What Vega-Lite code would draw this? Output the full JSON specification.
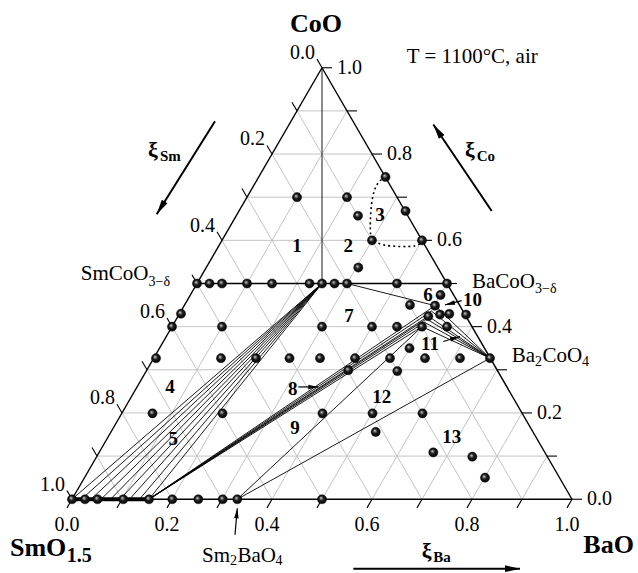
{
"$schema": "https://vega.github.io/schema/vega-lite/v6.json",
"width": 638, "height": 573, "padding": 0,
"autosize": {"type": "fit", "contains": "padding"},
"background": "white",
"config": {"view": {"stroke": null}},
"datasets": {
"grid": [
{"x":0.05,"c":0.1,"x2":0.95,"c2":0.1},{"x":0.1,"c":0.2,"x2":0.9,"c2":0.2},{"x":0.15,"c":0.3,"x2":0.85,"c2":0.3},
{"x":0.2,"c":0.4,"x2":0.8,"c2":0.4},{"x":0.25,"c":0.5,"x2":0.75,"c2":0.5},{"x":0.3,"c":0.6,"x2":0.7,"c2":0.6},
{"x":0.35,"c":0.7,"x2":0.65,"c2":0.7},{"x":0.4,"c":0.8,"x2":0.6,"c2":0.8},{"x":0.45,"c":0.9,"x2":0.55,"c2":0.9},
{"x":0.1,"c":0,"x2":0.55,"c2":0.9},{"x":0.2,"c":0,"x2":0.6,"c2":0.8},{"x":0.3,"c":0,"x2":0.65,"c2":0.7},
{"x":0.4,"c":0,"x2":0.7,"c2":0.6},{"x":0.5,"c":0,"x2":0.75,"c2":0.5},{"x":0.6,"c":0,"x2":0.8,"c2":0.4},
{"x":0.7,"c":0,"x2":0.85,"c2":0.3},{"x":0.8,"c":0,"x2":0.9,"c2":0.2},{"x":0.9,"c":0,"x2":0.95,"c2":0.1},
{"x":0.1,"c":0,"x2":0.05,"c2":0.1},{"x":0.2,"c":0,"x2":0.1,"c2":0.2},{"x":0.3,"c":0,"x2":0.15,"c2":0.3},
{"x":0.4,"c":0,"x2":0.2,"c2":0.4},{"x":0.5,"c":0,"x2":0.25,"c2":0.5},{"x":0.6,"c":0,"x2":0.3,"c2":0.6},
{"x":0.7,"c":0,"x2":0.35,"c2":0.7},{"x":0.8,"c":0,"x2":0.4,"c2":0.8},{"x":0.9,"c":0,"x2":0.45,"c2":0.9}
],
"edges": [
{"x":0,"c":0,"x2":1,"c2":0},{"x":0,"c":0,"x2":0.5,"c2":1},{"x":1,"c":0,"x2":0.5,"c2":1},
{"x":0.25,"c":0.5,"x2":0.75,"c2":0.5}
],
"ticks": [
{"x":0,"c":0,"x2":-0.01,"c2":-0.02},{"x":0.1,"c":0,"x2":0.09,"c2":-0.02},{"x":0.2,"c":0,"x2":0.19,"c2":-0.02},
{"x":0.3,"c":0,"x2":0.29,"c2":-0.02},{"x":0.4,"c":0,"x2":0.39,"c2":-0.02},{"x":0.5,"c":0,"x2":0.49,"c2":-0.02},
{"x":0.6,"c":0,"x2":0.59,"c2":-0.02},{"x":0.7,"c":0,"x2":0.69,"c2":-0.02},{"x":0.8,"c":0,"x2":0.79,"c2":-0.02},
{"x":0.9,"c":0,"x2":0.89,"c2":-0.02},{"x":1,"c":0,"x2":0.99,"c2":-0.02},
{"x":1,"c":0,"x2":1.02,"c2":0},{"x":0.95,"c":0.1,"x2":0.97,"c2":0.1},{"x":0.9,"c":0.2,"x2":0.92,"c2":0.2},
{"x":0.85,"c":0.3,"x2":0.87,"c2":0.3},{"x":0.8,"c":0.4,"x2":0.82,"c2":0.4},{"x":0.75,"c":0.5,"x2":0.77,"c2":0.5},
{"x":0.7,"c":0.6,"x2":0.72,"c2":0.6},{"x":0.65,"c":0.7,"x2":0.67,"c2":0.7},{"x":0.6,"c":0.8,"x2":0.62,"c2":0.8},
{"x":0.55,"c":0.9,"x2":0.57,"c2":0.9},{"x":0.5,"c":1,"x2":0.52,"c2":1},
{"x":0,"c":0,"x2":-0.01,"c2":0.02},{"x":0.05,"c":0.1,"x2":0.04,"c2":0.12},{"x":0.1,"c":0.2,"x2":0.09,"c2":0.22},
{"x":0.15,"c":0.3,"x2":0.14,"c2":0.32},{"x":0.2,"c":0.4,"x2":0.19,"c2":0.42},{"x":0.25,"c":0.5,"x2":0.24,"c2":0.52},
{"x":0.3,"c":0.6,"x2":0.29,"c2":0.62},{"x":0.35,"c":0.7,"x2":0.34,"c2":0.72},{"x":0.4,"c":0.8,"x2":0.39,"c2":0.82},
{"x":0.45,"c":0.9,"x2":0.44,"c2":0.92},{"x":0.5,"c":1,"x2":0.49,"c2":1.02}
],
"ties": [
{"x":0.5,"c":0.5,"x2":0,"c2":0},{"x":0.5,"c":0.5,"x2":0.019,"c2":0},{"x":0.5,"c":0.5,"x2":0.038,"c2":0},
{"x":0.5,"c":0.5,"x2":0.058,"c2":0},{"x":0.5,"c":0.5,"x2":0.077,"c2":0},{"x":0.5,"c":0.5,"x2":0.096,"c2":0},
{"x":0.5,"c":0.5,"x2":0.115,"c2":0},{"x":0.5,"c":0.5,"x2":0.135,"c2":0},{"x":0.5,"c":0.5,"x2":0.154,"c2":0},
{"x":0.154,"c":0,"x2":0.7,"c2":0.4},{"x":0.154,"c":0,"x2":0.705,"c2":0.41},{"x":0.154,"c":0,"x2":0.709,"c2":0.418},
{"x":0.154,"c":0,"x2":0.7126,"c2":0.4242},{"x":0.154,"c":0,"x2":0.719,"c2":0.436},{"x":0.154,"c":0,"x2":0.726,"c2":0.4487},
{"x":0.836,"c":0.327,"x2":0.7,"c2":0.4},{"x":0.836,"c":0.327,"x2":0.705,"c2":0.41},{"x":0.836,"c":0.327,"x2":0.709,"c2":0.418},
{"x":0.836,"c":0.327,"x2":0.7126,"c2":0.4242},{"x":0.836,"c":0.327,"x2":0.719,"c2":0.436},{"x":0.836,"c":0.327,"x2":0.726,"c2":0.4487},
{"x":0.3306,"c":0,"x2":0.7,"c2":0.4},{"x":0.3306,"c":0,"x2":0.836,"c2":0.327},
{"x":0.55,"c":0.5,"x2":0.726,"c2":0.4487},{"x":0.5,"c":1,"x2":0.5,"c2":0.5}
],
"thick": [{"x":0,"c":0,"x2":0.154,"c2":0}],
"dotted": [
{"i":0,"x":0.627,"c":0.747},{"i":1,"x":0.609,"c":0.734},{"i":2,"x":0.599,"c":0.695},{"i":3,"x":0.596,"c":0.641},
{"i":4,"x":0.597,"c":0.61},{"i":5,"x":0.6,"c":0.6},{"i":6,"x":0.62,"c":0.588},{"i":7,"x":0.66,"c":0.585},
{"i":8,"x":0.69,"c":0.586},{"i":9,"x":0.7026,"c":0.5975}
],
"arrowsBig": [
{"x":0.286,"c":0.876,"x2":0.1694,"c2":0.6605},
{"x":0.8394,"c":0.668,"x2":0.7226,"c2":0.8684},
{"x":0.5626,"c":-0.161,"x2":0.896,"c2":-0.161}
],
"arrowsSmall": [
{"x":0.326,"c":-0.0824,"x2":0.3306,"c2":-0.0208},
{"x":0.4526,"c":0.2603,"x2":0.4926,"c2":0.2603},
{"x":0.7794,"c":0.4603,"x2":0.746,"c2":0.4503},
{"x":0.7426,"c":0.3656,"x2":0.776,"c2":0.3771}
],
"heads": [
{"name":"xiSm","x":0.1694,"c":0.6605},{"name":"xiCo","x":0.7226,"c":0.8684},{"name":"xiBa","x":0.896,"c":-0.161},
{"name":"smba","x":0.3306,"c":-0.0208},{"name":"a8","x":0.4926,"c":0.2603},{"name":"a10","x":0.746,"c":0.4503},
{"name":"a11","x":0.776,"c":0.3771}
],
"points": [
{"x":0.45,"c":0.70},{"x":0.55,"c":0.70},{"x":0.572,"c":0.657},{"x":0.627,"c":0.747},{"x":0.667,"c":0.668},
{"x":0.60,"c":0.60},{"x":0.70,"c":0.60},{"x":0.5726,"c":0.537},
{"x":0.25,"c":0.5},{"x":0.275,"c":0.5},{"x":0.30,"c":0.5},{"x":0.35,"c":0.5},{"x":0.40,"c":0.5},{"x":0.475,"c":0.5},
{"x":0.50,"c":0.5},{"x":0.525,"c":0.5},{"x":0.55,"c":0.5},{"x":0.65,"c":0.5},{"x":0.75,"c":0.5},
{"x":0.737,"c":0.4734},{"x":0.676,"c":0.4503},{"x":0.726,"c":0.4487},{"x":0.7126,"c":0.4242},{"x":0.736,"c":0.428},
{"x":0.7546,"c":0.4296},{"x":0.788,"c":0.428},
{"x":0.2,"c":0.4},{"x":0.3,"c":0.4},{"x":0.5,"c":0.4},{"x":0.6,"c":0.4},{"x":0.65,"c":0.4},{"x":0.7,"c":0.4},{"x":0.75,"c":0.4},
{"x":0.218,"c":0.43},{"x":0.675,"c":0.35},
{"x":0.168,"c":0.327},{"x":0.298,"c":0.327},{"x":0.368,"c":0.327},{"x":0.435,"c":0.327},{"x":0.496,"c":0.327},
{"x":0.566,"c":0.327},{"x":0.636,"c":0.327},{"x":0.706,"c":0.327},{"x":0.776,"c":0.327},{"x":0.836,"c":0.327},
{"x":0.5526,"c":0.299},{"x":0.6506,"c":0.297},
{"x":0.161,"c":0.199},{"x":0.301,"c":0.199},{"x":0.501,"c":0.199},{"x":0.601,"c":0.199},{"x":0.701,"c":0.199},
{"x":0.6074,"c":0.156},
{"x":0.7226,"c":0.1086},{"x":0.8006,"c":0.0986},{"x":0.826,"c":0.05},
{"x":0,"c":0},{"x":0.026,"c":0},{"x":0.051,"c":0},{"x":0.1026,"c":0},{"x":0.154,"c":0},{"x":0.2006,"c":0},
{"x":0.2526,"c":0},{"x":0.3014,"c":0},{"x":0.3306,"c":0},{"x":0.5,"c":0}
],
"tickBottom": [
{"t":"0.0","x":-0.01,"c":-0.074},{"t":"0.2","x":0.19,"c":-0.074},{"t":"0.4","x":0.39,"c":-0.074},
{"t":"0.6","x":0.59,"c":-0.074},{"t":"0.8","x":0.79,"c":-0.074},{"t":"1.0","x":0.99,"c":-0.074}
],
"tickLeft": [
{"t":"0.0","x":0.49,"c":1.02},{"t":"0.2","x":0.39,"c":0.82},{"t":"0.4","x":0.29,"c":0.62},
{"t":"0.6","x":0.19,"c":0.42},{"t":"0.8","x":0.09,"c":0.22},{"t":"1.0","x":-0.01,"c":0.02}
],
"tickRight": [
{"t":"0.0","x":1.02,"c":0},{"t":"0.2","x":0.92,"c":0.2},{"t":"0.4","x":0.82,"c":0.4},
{"t":"0.6","x":0.72,"c":0.6},{"t":"0.8","x":0.62,"c":0.8},{"t":"1.0","x":0.52,"c":1.0}
],
"regions": [
{"t":"1","x":0.45,"c":0.5866},{"t":"2","x":0.5526,"c":0.5866},{"t":"3","x":0.616,"c":0.658},
{"t":"4","x":0.196,"c":0.26},{"t":"5","x":0.2026,"c":0.139},{"t":"6","x":0.712,"c":0.4734},
{"t":"7","x":0.554,"c":0.4256},{"t":"8","x":0.4414,"c":0.2564},{"t":"9","x":0.446,"c":0.164},
{"t":"11","x":0.716,"c":0.36},{"t":"12","x":0.6194,"c":0.2372},{"t":"13","x":0.7594,"c":0.1448}
],
"regionsLeft": [{"t":"10","x":0.782,"c":0.462}],
"plainLeft": [
{"t":"T = 1100°C, air","x":0.6694,"c":1.0115},
{"t":"CoO","x":0.941,"c":0.3187},
{"t":"BaO","x":0.331,"c":-0.1443}
],
"plainRight": [
{"t":"SmCoO","x":0.153,"c":0.508},
{"t":"BaCoO","x":0.926,"c":0.4896},
{"t":"Ba","x":0.926,"c":0.3187},
{"t":"Sm","x":0.316,"c":-0.1443}
],
"subs": [
{"t":"3−δ","x":0.153,"c":0.494},
{"t":"3−δ","x":0.926,"c":0.478},
{"t":"2","x":0.926,"c":0.3095},
{"t":"4","x":1.02,"c":0.3095},
{"t":"2","x":0.316,"c":-0.1524},
{"t":"4","x":0.407,"c":-0.1524}
],
"boldBig": [
{"t":"CoO","x":0.436,"c":1.083},
{"t":"SmO","x":-0.124,"c":-0.1316},
{"t":"BaO","x":1.0226,"c":-0.1247}
],
"boldSub": [{"t":"1.5","x":-0.0106,"c":-0.1443}],
"xi": [
{"t":"ξ","x":0.152,"c":0.792},{"t":"ξ","x":0.786,"c":0.792},{"t":"ξ","x":0.6994,"c":-0.1363}
],
"xiSub": [
{"t":"Sm","x":0.176,"c":0.785},{"t":"Co","x":0.8094,"c":0.785},{"t":"Ba","x":0.7226,"c":-0.1443}
]
},
"encoding": {
"x": {"field": "x", "type": "quantitative", "scale": {"domain": [-0.144, 1.132], "nice": false, "zero": false}, "axis": null},
"y": {"field": "c", "type": "quantitative", "scale": {"domain": [-0.1663, 1.157], "nice": false, "zero": false}, "axis": null}
},
"layer": [
{"data": {"name": "grid"}, "mark": {"type": "rule", "color": "#c4c4c4", "strokeWidth": 1}, "encoding": {"x2": {"field": "x2"}, "y2": {"field": "c2"}}},
{"data": {"name": "edges"}, "mark": {"type": "rule", "color": "#000000", "strokeWidth": 1.4}, "encoding": {"x2": {"field": "x2"}, "y2": {"field": "c2"}}},
{"data": {"name": "ticks"}, "mark": {"type": "rule", "color": "#000000", "strokeWidth": 1.1}, "encoding": {"x2": {"field": "x2"}, "y2": {"field": "c2"}}},
{"data": {"name": "ties"}, "mark": {"type": "rule", "color": "#000000", "strokeWidth": 0.9}, "encoding": {"x2": {"field": "x2"}, "y2": {"field": "c2"}}},
{"data": {"name": "thick"}, "mark": {"type": "rule", "color": "#000000", "strokeWidth": 4}, "encoding": {"x2": {"field": "x2"}, "y2": {"field": "c2"}}},
{"data": {"name": "dotted"}, "mark": {"type": "line", "color": "#000000", "strokeWidth": 1.6, "strokeDash": [2, 3], "interpolate": "basis"}, "encoding": {"order": {"field": "i", "type": "quantitative"}}},
{"data": {"name": "arrowsBig"}, "mark": {"type": "rule", "color": "#000000", "strokeWidth": 2}, "encoding": {"x2": {"field": "x2"}, "y2": {"field": "c2"}}},
{"data": {"name": "arrowsSmall"}, "mark": {"type": "rule", "color": "#000000", "strokeWidth": 1.2}, "encoding": {"x2": {"field": "x2"}, "y2": {"field": "c2"}}},
{"data": {"name": "heads"}, "transform": [{"filter": "datum.name === 'xiSm'"}], "mark": {"type": "point", "shape": "M0,0L0.45,2L-0.45,2Z", "filled": true, "color": "#000000", "opacity": 1, "strokeWidth": 0, "size": 225, "angle": 212}},
{"data": {"name": "heads"}, "transform": [{"filter": "datum.name === 'xiCo'"}], "mark": {"type": "point", "shape": "M0,0L0.45,2L-0.45,2Z", "filled": true, "color": "#000000", "opacity": 1, "strokeWidth": 0, "size": 225, "angle": 326}},
{"data": {"name": "heads"}, "transform": [{"filter": "datum.name === 'xiBa'"}], "mark": {"type": "point", "shape": "M0,0L0.45,2L-0.45,2Z", "filled": true, "color": "#000000", "opacity": 1, "strokeWidth": 0, "size": 225, "angle": 90}},
{"data": {"name": "heads"}, "transform": [{"filter": "datum.name === 'a8'"}], "mark": {"type": "point", "shape": "M0,0L0.45,2L-0.45,2Z", "filled": true, "color": "#000000", "opacity": 1, "strokeWidth": 0, "size": 100, "angle": 90}},
{"data": {"name": "heads"}, "transform": [{"filter": "datum.name === 'smba'"}], "mark": {"type": "point", "shape": "M0,0L0.45,2L-0.45,2Z", "filled": true, "color": "#000000", "opacity": 1, "strokeWidth": 0, "size": 100, "angle": 5}},
{"data": {"name": "heads"}, "transform": [{"filter": "datum.name === 'a10'"}], "mark": {"type": "point", "shape": "M0,0L0.45,2L-0.45,2Z", "filled": true, "color": "#000000", "opacity": 1, "strokeWidth": 0, "size": 100, "angle": 256}},
{"data": {"name": "heads"}, "transform": [{"filter": "datum.name === 'a11'"}], "mark": {"type": "point", "shape": "M0,0L0.45,2L-0.45,2Z", "filled": true, "color": "#000000", "opacity": 1, "strokeWidth": 0, "size": 100, "angle": 73}},
{"data": {"name": "points"}, "mark": {"type": "point", "shape": "circle", "filled": true, "size": 85, "opacity": 1, "stroke": "#000000", "strokeWidth": 0.4,
  "fill": {"gradient": "radial", "x1": 0.38, "y1": 0.35, "r1": 0, "x2": 0.5, "y2": 0.5, "r2": 0.55,
    "stops": [{"offset": 0, "color": "#f4f4f4"}, {"offset": 0.18, "color": "#8a8a8a"}, {"offset": 0.45, "color": "#1e1e1e"}, {"offset": 1, "color": "#000000"}]}}},
{"data": {"name": "tickBottom"}, "mark": {"type": "text", "font": "Liberation Serif", "fontSize": 20, "align": "center", "baseline": "alphabetic", "color": "#000000"}, "encoding": {"text": {"field": "t"}}},
{"data": {"name": "tickLeft"}, "mark": {"type": "text", "font": "Liberation Serif", "fontSize": 20, "align": "right", "baseline": "alphabetic", "dx": -2, "color": "#000000"}, "encoding": {"text": {"field": "t"}}},
{"data": {"name": "tickRight"}, "mark": {"type": "text", "font": "Liberation Serif", "fontSize": 20, "align": "left", "baseline": "middle", "dx": 5, "color": "#000000"}, "encoding": {"text": {"field": "t"}}},
{"data": {"name": "regions"}, "mark": {"type": "text", "font": "Liberation Serif", "fontSize": 19, "fontWeight": "bold", "align": "center", "baseline": "middle", "color": "#000000"}, "encoding": {"text": {"field": "t"}}},
{"data": {"name": "regionsLeft"}, "mark": {"type": "text", "font": "Liberation Serif", "fontSize": 19, "fontWeight": "bold", "align": "left", "baseline": "middle", "color": "#000000"}, "encoding": {"text": {"field": "t"}}},
{"data": {"name": "plainLeft"}, "mark": {"type": "text", "font": "Liberation Serif", "fontSize": 21, "align": "left", "baseline": "alphabetic", "color": "#000000"}, "encoding": {"text": {"field": "t"}}},
{"data": {"name": "plainRight"}, "mark": {"type": "text", "font": "Liberation Serif", "fontSize": 21, "align": "right", "baseline": "alphabetic", "color": "#000000"}, "encoding": {"text": {"field": "t"}}},
{"data": {"name": "subs"}, "mark": {"type": "text", "font": "Liberation Serif", "fontSize": 14, "align": "left", "baseline": "alphabetic", "color": "#000000"}, "encoding": {"text": {"field": "t"}}},
{"data": {"name": "boldBig"}, "mark": {"type": "text", "font": "Liberation Serif", "fontSize": 26, "fontWeight": "bold", "align": "left", "baseline": "alphabetic", "color": "#000000"}, "encoding": {"text": {"field": "t"}}},
{"data": {"name": "boldSub"}, "mark": {"type": "text", "font": "Liberation Serif", "fontSize": 20, "fontWeight": "bold", "align": "left", "baseline": "alphabetic", "color": "#000000"}, "encoding": {"text": {"field": "t"}}},
{"data": {"name": "xi"}, "mark": {"type": "text", "font": "Liberation Serif", "fontSize": 22, "fontWeight": "bold", "align": "left", "baseline": "alphabetic", "color": "#000000"}, "encoding": {"text": {"field": "t"}}},
{"data": {"name": "xiSub"}, "mark": {"type": "text", "font": "Liberation Serif", "fontSize": 15, "fontWeight": "bold", "align": "left", "baseline": "alphabetic", "color": "#000000"}, "encoding": {"text": {"field": "t"}}}
]
}
